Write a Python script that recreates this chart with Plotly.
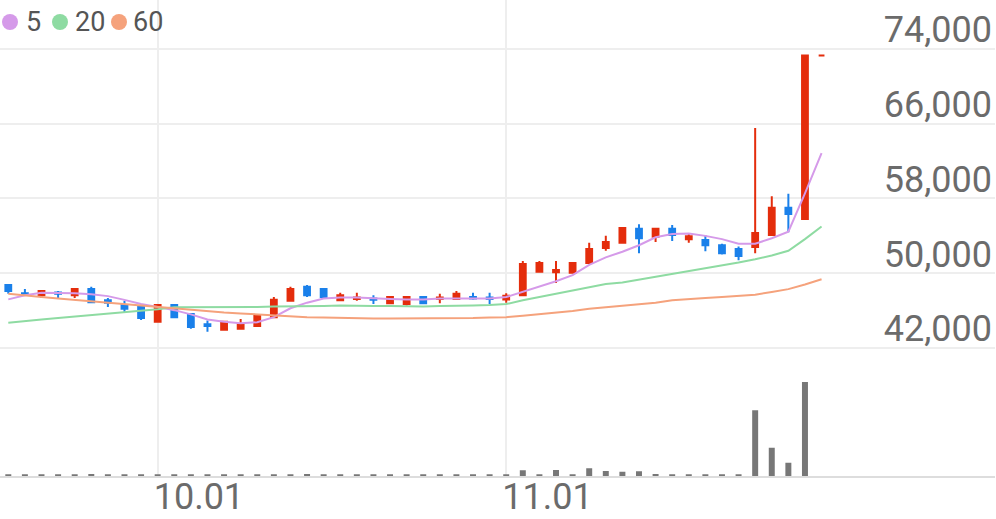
import plotly.graph_objects as go

# ---- data ----
open_ = [48750, 47850, 47650, 47950, 47650, 48300, 47100, 46600, 46500, 44800,
         46600, 45650, 44550, 43950, 44050, 44350, 45300, 47050, 48550, 48300,
         47100, 47250, 47300, 46800, 46700, 47450, 47250, 47250, 47450, 47400,
         47200, 47650, 50150, 50100, 50050, 51100, 52700, 53250, 54750, 53900,
         54750, 53650, 53550, 53000, 52600, 52800, 54100, 57000, 55800, 73300]
high = [48850, 48300, 48100, 48100, 48300, 48550, 47350, 47050, 46500, 46700,
        46600, 45750, 44950, 44800, 45100, 45650, 47450, 48550, 48750, 48300,
        47900, 47900, 47650, 47550, 47450, 47550, 47800, 48100, 47900, 47900,
        47850, 51300, 51300, 51300, 51200, 53250, 54000, 54850, 55250, 54750,
        55150, 54300, 54100, 53150, 52850, 65550, 58250, 58500, 73300, 73300]
low = [47800, 47600, 47350, 47350, 47350, 46800, 46400, 45850, 45000, 44800,
       45300, 44050, 43750, 43950, 44050, 44350, 45300, 47050, 47450, 47450,
       47100, 47050, 46700, 46700, 46550, 46700, 46800, 47250, 47150, 46700,
       46850, 47650, 50150, 48950, 50050, 51100, 52400, 53250, 52150, 53350,
       53450, 53250, 52350, 52000, 51400, 52150, 54050, 54400, 55800, 73300]
close = [48100, 47750, 48100, 47800, 48300, 46900, 46850, 46200, 45200, 46600,
         45300, 44250, 44350, 44800, 44550, 45450, 47150, 48300, 47650, 47450,
         47650, 47400, 47150, 47450, 47450, 46800, 47400, 47800, 47300, 47250,
         47600, 51000, 51100, 50350, 51100, 52600, 53350, 54850, 53750, 54750,
         54100, 53950, 53000, 52150, 51850, 54300, 57000, 56350, 73300, 73300]
volume = [150000, 130000, 130000, 130000, 130000, 200000, 130000, 100000, 100000, 130000,
          130000, 130000, 100000, 150000, 150000, 150000, 150000, 180000, 200000, 130000,
          130000, 100000, 150000, 150000, 150000, 100000, 100000, 130000, 100000, 130000,
          100000, 570000, 170000, 600000, 130000, 770000, 500000, 430000, 470000, 200000,
          130000, 130000, 170000, 130000, 130000, 6570000, 2830000, 1330000, 9400000, 0]
ma5 = [47200, 47650, 47900, 47900, 47850, 47750, 47550, 47150, 46700, 46400,
       46050, 45600, 45050, 44800, 44650, 44750, 45300, 46250, 46850, 47300,
       47400, 47400, 47300, 47250, 47200, 47200, 47300, 47300, 47300, 47300,
       47450, 48000, 48550, 49150, 49800, 50900, 51700, 52300, 53000, 53850,
       54200, 54250, 54000, 53650, 53150, 53150, 53750, 54450, 58550, 62850]
ma20 = [44700, 44900, 45050, 45200, 45350, 45550, 45700, 45850, 46000, 46150,
        46350, 46350, 46350, 46400, 46400, 46400, 46450, 46450, 46500, 46500,
        46550, 46500, 46500, 46500, 46450, 46450, 46500, 46500, 46550, 46600,
        46700, 47100, 47450, 47850, 48200, 48550, 48850, 49000, 49300, 49600,
        49950, 50250, 50500, 50800, 51150, 51500, 51900, 52400, 53650, 55000]
ma60 = [47800, 47600, 47450, 47300, 47150, 46950, 46800, 46650, 46500, 46350,
        46200, 46050, 45900, 45800, 45700, 45600, 45500, 45350, 45300, 45250,
        45200, 45200, 45150, 45150, 45150, 45150, 45150, 45150, 45200, 45250,
        45300, 45450, 45600, 45750, 45950, 46200, 46350, 46550, 46700, 46850,
        47100, 47250, 47350, 47450, 47550, 47700, 48000, 48300, 48800, 49350]
x_tick_pos = [9, 30]
x_tick_text = ["10.01", "11.01"]
price_ticks = [42000, 50000, 58000, 66000, 74000]
ma_names = ["5", "20", "60"]
ma_colors = ["#d59ae9", "#8edba2", "#f5a27c"]

RED = "#e42d0c"
BLUE = "#1a80ea"
FONT = "Roboto"
TICK_COLOR = "#6b6b6b"

# figure geometry (pixels)
W, H = 996, 519
PLOT_W, PLOT_H = 995, 476

x = list(range(len(close)))

fig = go.Figure()

fig.add_trace(go.Bar(x=x, y=volume, marker_color="#777777", marker_line_width=0,
                     xaxis="x", yaxis="y", showlegend=False, hoverinfo="skip"))

fig.add_trace(go.Candlestick(
    x=x, open=open_, high=high, low=low, close=close,
    increasing=dict(line=dict(color=RED, width=2), fillcolor=RED),
    decreasing=dict(line=dict(color=BLUE, width=2), fillcolor=BLUE),
    whiskerwidth=0, xaxis="x", yaxis="y2", showlegend=False))

for name, vals, col in zip(ma_names, [ma5, ma20, ma60], ma_colors):
    fig.add_trace(go.Scatter(x=x, y=vals, mode="lines", name="MA" + name,
                             line=dict(color=col, width=2),
                             xaxis="x", yaxis="y2", showlegend=False, hoverinfo="skip"))

# legend drawn as dots + labels in the top-left corner
legend_dot_px = [10, 60, 119]
legend_text_px = [24, 73, 131]
legend_y_px = 22
for name, col, dx, tx in zip(ma_names, ma_colors, legend_dot_px, legend_text_px):
    fig.add_shape(type="circle", xref="paper", yref="paper",
                  xsizemode="pixel", ysizemode="pixel",
                  xanchor=dx / PLOT_W, yanchor=(PLOT_H - legend_y_px) / PLOT_H,
                  x0=-8, x1=8, y0=-8, y1=8,
                  fillcolor=col, line=dict(width=0))
    fig.add_annotation(text=name, xref="paper", yref="paper",
                       x=tx / PLOT_W, y=(PLOT_H - legend_y_px) / PLOT_H,
                       xanchor="left", yanchor="middle", showarrow=False,
                       font=dict(size=27, color="#555555", family=FONT))

fig.update_layout(
    width=W, height=H,
    margin=dict(l=0, r=W - PLOT_W, t=0, b=H - PLOT_H, pad=0, autoexpand=False),
    paper_bgcolor="white", plot_bgcolor="white",
    font=dict(family=FONT, color=TICK_COLOR),
    bargap=0.64, boxgap=0.5,
    showlegend=False,
    xaxis=dict(range=[-0.5, 59.45], anchor="y", tickmode="array",
               tickvals=x_tick_pos, ticktext=x_tick_text,
               showgrid=True, gridcolor="#eeeeee", gridwidth=2,
               showline=True, linecolor="#dddddd", linewidth=2,
               ticks="", ticklabelposition="outside right",
               ticklabelstandoff=-12, ticklabelshift=-5,
               tickfont=dict(size=36, color=TICK_COLOR, family=FONT),
               zeroline=False, rangeslider=dict(visible=False), fixedrange=True),
    yaxis=dict(domain=[0, 0.22], range=[0, 10470000], anchor="x",
               showticklabels=False, showgrid=False, zeroline=False, fixedrange=True),
    yaxis2=dict(domain=[0.22, 1], range=[39507, 79244], anchor="x", side="right",
                tickmode="array", tickvals=price_ticks, tickformat=",",
                ticklabelposition="inside top", ticks="",
                ticklabelshift=6, ticklabeloverflow="allow",
                showgrid=True, gridcolor="#eeeeee", gridwidth=2,
                tickfont=dict(size=36, color=TICK_COLOR, family=FONT),
                showline=False, zeroline=False, fixedrange=True),
)

fig.write_html("out.html", config={"displayModeBar": False},
               post_script="document.body.style.margin='0';")
